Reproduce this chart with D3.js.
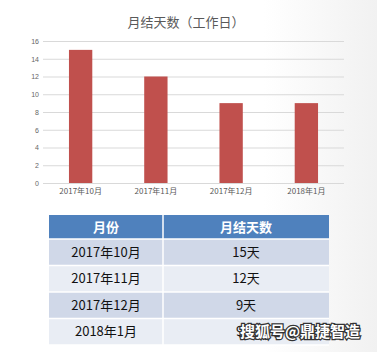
<!DOCTYPE html>
<html>
<head>
<meta charset="utf-8">
<script src="https://cdn.jsdelivr.net/npm/d3@7"></script>
<style>
body { margin: 0; background: #fff; }
text { font-family: "Noto Sans CJK SC", "Liberation Sans", sans-serif; }
</style>
</head>
<body>
<div id="chart"></div>
<script>
var months = ["2017年10月", "2017年11月", "2017年12月", "2018年1月"];
var days = [15, 12, 9, 9];
var dayLabels = ["15天", "12天", "9天", "9天"];
var yTicks = [0, 2, 4, 6, 8, 10, 12, 14, 16];
var headers = ["月份", "月结天数"];

var W = 377, H = 352;
var svg = d3.select("#chart").append("svg")
    .attr("width", W)
    .attr("height", H);

// faint photo shading on the right
var grad = svg.append("defs").append("linearGradient")
    .attr("id", "bg").attr("x1", 0).attr("x2", 1);
grad.append("stop").attr("offset", "0.7").attr("stop-color", "#ffffff");
grad.append("stop").attr("offset", "1").attr("stop-color", "#f1f1f1");
svg.append("rect").attr("width", W).attr("height", H).attr("fill", "url(#bg)");

svg.append("text")
    .attr("x", 186).attr("y", 27)
    .attr("text-anchor", "middle")
    .attr("font-size", 13)
    .attr("fill", "#595959")
    .text("月结天数（工作日）");

var plot = {left: 43, right: 344, top: 41, bottom: 183};

var x = d3.scaleBand()
    .domain(months)
    .range([plot.left, plot.right])
    .paddingInner(0.69)
    .paddingOuter(0.345);

var y = d3.scaleLinear()
    .domain([0, 16])
    .range([plot.bottom, plot.top]);

// gridlines
svg.append("g")
    .selectAll("line")
    .data(yTicks)
    .enter()
    .append("line")
    .attr("x1", plot.left).attr("x2", plot.right)
    .attr("y1", function(d) { return y(d) + 0.5; })
    .attr("y2", function(d) { return y(d) + 0.5; })
    .attr("stroke", "#d9d9d9");

// y axis labels
var yAxis = svg.append("g")
    .attr("transform", "translate(" + (plot.left - 4) + ",0)")
    .call(d3.axisLeft(y).tickValues(yTicks).tickSize(0).tickPadding(0));
yAxis.select(".domain").remove();
yAxis.selectAll("text")
    .attr("font-size", 7)
    .attr("fill", "#666")
    .style("font-family", "Liberation Sans, sans-serif");

// bars
svg.append("g")
    .selectAll("rect")
    .data(days)
    .enter()
    .append("rect")
    .attr("x", function(d, i) { return x(months[i]); })
    .attr("y", function(d) { return y(d); })
    .attr("width", x.bandwidth())
    .attr("height", function(d) { return y(0) - y(d); })
    .attr("fill", "#c0504d");

// x axis labels
var xAxis = svg.append("g")
    .attr("transform", "translate(0," + (plot.bottom + 5) + ")")
    .call(d3.axisBottom(x).tickSize(0).tickPadding(0));
xAxis.select(".domain").remove();
xAxis.selectAll("text")
    .attr("font-size", 8)
    .attr("fill", "#595959");

// table
var tbl = {left: 49, mid: 163, right: 329, top: 215, headH: 24, rowH: 26.5};
var colCenters = [(tbl.left + tbl.mid) / 2, (tbl.mid + tbl.right) / 2];

svg.append("rect")
    .attr("x", tbl.left).attr("y", tbl.top)
    .attr("width", tbl.right - tbl.left).attr("height", tbl.headH)
    .attr("fill", "#4f81bd");

svg.append("g")
    .selectAll("text")
    .data(headers)
    .enter()
    .append("text")
    .attr("x", function(d, i) { return colCenters[i]; })
    .attr("y", tbl.top + tbl.headH / 2 + 4.5)
    .attr("text-anchor", "middle")
    .attr("font-size", 13)
    .attr("font-weight", "bold")
    .attr("fill", "#fff")
    .text(function(d) { return d; });

var rows = svg.append("g")
    .selectAll("g")
    .data(months)
    .enter()
    .append("g")
    .attr("transform", function(d, i) {
        return "translate(0," + (tbl.top + tbl.headH + i * tbl.rowH) + ")";
    });

rows.append("rect")
    .attr("x", tbl.left)
    .attr("width", tbl.right - tbl.left)
    .attr("height", tbl.rowH)
    .attr("fill", function(d, i) { return i % 2 === 0 ? "#d0d8e8" : "#e9edf4"; });

rows.append("text")
    .attr("x", colCenters[0])
    .attr("y", tbl.rowH / 2 + 4.5)
    .attr("text-anchor", "middle")
    .attr("font-size", 13)
    .attr("fill", "#111")
    .text(function(d) { return d; });

rows.append("text")
    .attr("x", colCenters[1])
    .attr("y", tbl.rowH / 2 + 4.5)
    .attr("text-anchor", "middle")
    .attr("font-size", 13)
    .attr("fill", "#111")
    .text(function(d, i) { return dayLabels[i]; });

// white separators
svg.append("g")
    .selectAll("line")
    .data(d3.range(months.length + 1))
    .enter()
    .append("line")
    .attr("x1", tbl.left).attr("x2", tbl.right)
    .attr("y1", function(i) { return tbl.top + tbl.headH + i * tbl.rowH; })
    .attr("y2", function(i) { return tbl.top + tbl.headH + i * tbl.rowH; })
    .attr("stroke", "#fff")
    .attr("stroke-width", 1.5);

svg.append("line")
    .attr("x1", tbl.mid).attr("x2", tbl.mid)
    .attr("y1", tbl.top)
    .attr("y2", tbl.top + tbl.headH + months.length * tbl.rowH)
    .attr("stroke", "#fff")
    .attr("stroke-width", 1.5);

// watermark
svg.append("text")
    .attr("x", 300).attr("y", 337)
    .attr("text-anchor", "middle")
    .attr("font-size", 15)
    .attr("font-weight", "bold")
    .attr("fill", "#fff")
    .attr("stroke", "#333")
    .attr("stroke-width", 2.5)
    .attr("paint-order", "stroke")
    .text("搜狐号@鼎捷智造");
</script>
</body>
</html>
